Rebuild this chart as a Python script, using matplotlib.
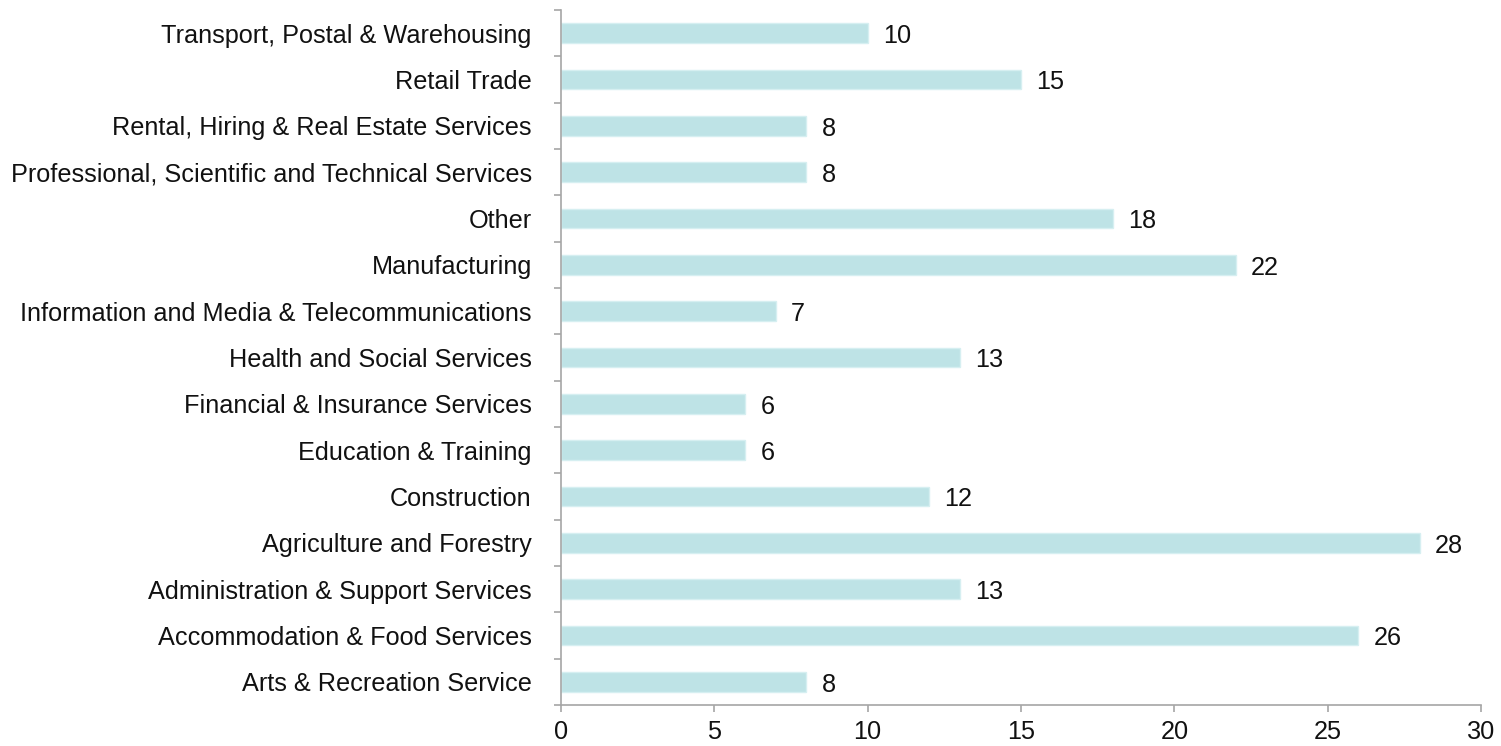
import matplotlib
matplotlib.use("Agg")
import matplotlib.pyplot as plt
import numpy as np

plt.rcParams['font.family'] = ['Liberation Sans', 'DejaVu Sans']

categories = [
    "Arts & Recreation Service",
    "Accommodation & Food Services",
    "Administration & Support Services",
    "Agriculture and Forestry",
    "Construction",
    "Education & Training",
    "Financial & Insurance Services",
    "Health and Social Services",
    "Information and Media & Telecommunications",
    "Manufacturing",
    "Other",
    "Professional, Scientific and Technical Services",
    "Rental, Hiring & Real Estate Services",
    "Retail Trade",
    "Transport, Postal & Warehousing",
]
values = [8, 26, 13, 28, 12, 6, 6, 13, 7, 22, 18, 8, 8, 15, 10]
x_ticks = [0, 5, 10, 15, 20, 25, 30]

FS = 18.2
fig = plt.figure(figsize=(15.01, 7.46), dpi=100)
ax = fig.add_axes([561/1501, 1-705/746, (1481-561)/1501, (705-10)/746])

y = np.arange(len(categories))
ax.barh(y, values, height=0.43, color='#bee3e6', edgecolor='#d6eff1', linewidth=1.0)

for yi, v in zip(y, values):
    ax.annotate(str(v), (v, yi), xytext=(11, -2), textcoords='offset points',
                ha='left', va='center', fontsize=FS, color='#111111')

ax.set_xlim(0, 30)
ax.set_ylim(-0.5, len(categories) - 0.5)
ax.set_xticks(x_ticks)
ax.set_xticklabels([str(t) for t in x_ticks], fontsize=FS, color='#111111')

ax.set_yticks(np.arange(len(categories) + 1) - 0.5)
ax.set_yticklabels([])
ax.set_yticks(y, minor=True)
ax.set_yticklabels(categories, minor=True, fontsize=FS, color='#111111')
ax.tick_params(axis='y', which='minor', length=0, pad=21)
ax.tick_params(axis='y', which='major', length=5, width=1.2, color='#a6a6a6', direction='out')
ax.tick_params(axis='x', which='major', length=5, width=1.2, color='#a6a6a6', direction='out', pad=6)

for s in ['top', 'right']:
    ax.spines[s].set_visible(False)
for s in ['left', 'bottom']:
    ax.spines[s].set_color('#a6a6a6')
    ax.spines[s].set_linewidth(1.2)

fig.savefig('out.png', dpi=100)
